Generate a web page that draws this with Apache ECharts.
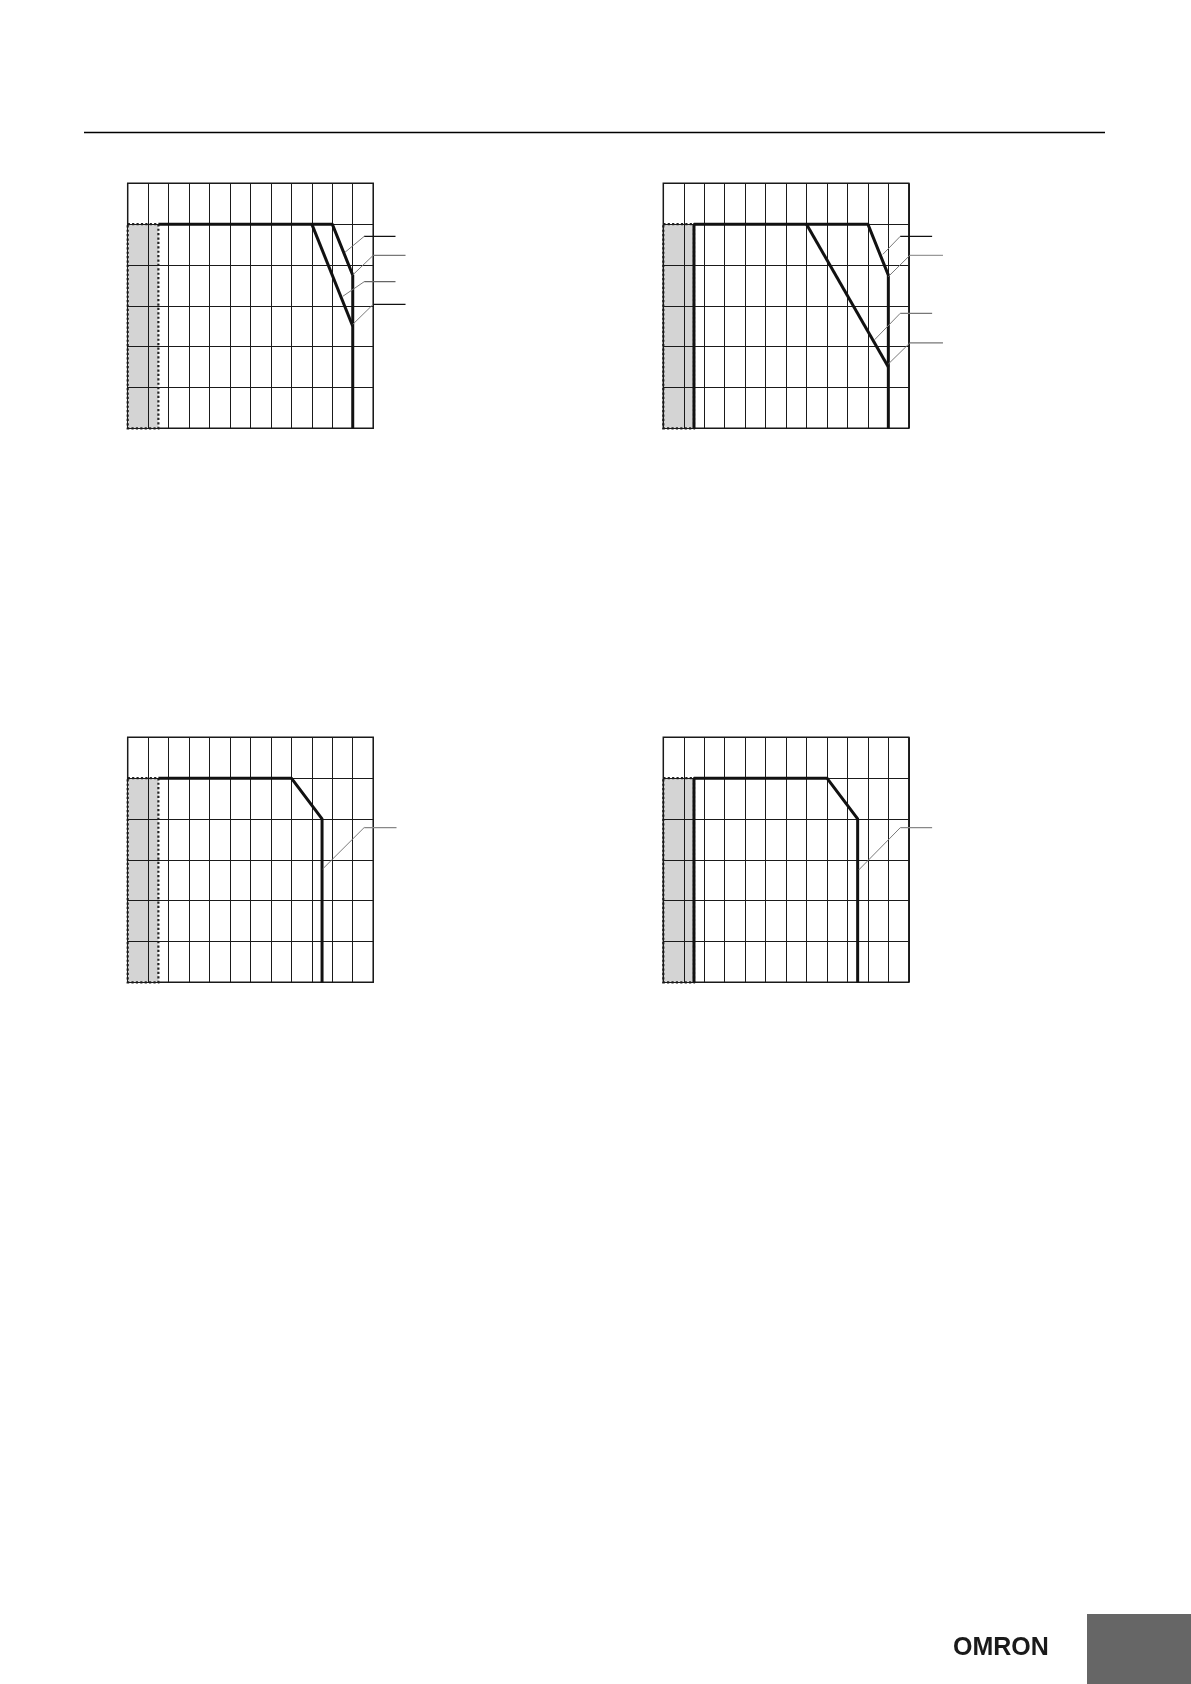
<!DOCTYPE html>
<html>
<head>
<meta charset="utf-8">
<script src="https://cdn.jsdelivr.net/npm/echarts@6.0.0/dist/echarts.min.js"></script>
<style>
html,body{margin:0;padding:0;background:#fff;}
#c{width:1191px;height:1684px;}
</style>
</head>
<body>
<div id="c"></div>
<script>
// Axis ranges (temperature °C on x, load % on y) — no tick labels are printed in the picture
const xMin = -40, xMax = 80, xStep = 10;
const yMin = 0, yMax = 120, yStep = 20;
// Wider hidden x range used only for the label leader lines that run past the grid
const xLeaderMax = 100;

// Shaded (non-operating) band: x from / to, up to load %
const bandX = [-40, -25];
const bandTop = 100;

// Derating curves
const curve1Main = [[-25,100],[60,100],[70,75],[70,0]];
const curve1Alt  = [[50,100],[70,50]];
const curve2Main = [[-25,0],[-25,100],[60,100],[70,75],[70,0]];
const curve2Alt  = [[30,100],[70,30]];
const curve3Main = [[-25,100],[40,100],[55,80],[55,0]];
const curve4Main = [[-25,0],[-25,100],[40,100],[55,80],[55,0]];

// Leader lines for (removed) labels: start on curve, elbow, end
const leaders1 = [
  [[66.2,86.2],[75.6,94.0],[90.9,94.0]],
  [[70,75.1],[80,84.7],[95.8,84.7]],
  [[65.2,64.7],[75.6,71.8],[90.9,71.8]],
  [[70,50.9],[80,60.7],[95.8,60.7]]
];
const leaderColors1 = ['#111','#777','#666','#111'];
const leaders2 = [
  [[67.3,85.2],[75.8,94.0],[91.4,94.0]],
  [[70,74.3],[80.5,84.7],[96.7,84.7]],
  [[63.2,43.3],[75.8,56.3],[91.4,56.3]],
  [[70,31.5],[80.5,41.8],[96.7,41.8]]
];
const leaderColors2 = ['#111','#999','#777','#777'];
const leaders3 = [[[55.3,55.5],[75.6,75.8],[91.4,75.8]]];
const leaderColors3 = ['#888'];
const leaders4 = [[[55.5,55.0],[75.9,75.8],[91.4,75.8]]];
const leaderColors4 = ['#888'];

const gridBoxes = [
  {left:127.7, top:183.3},
  {left:663.3, top:183.3},
  {left:127.7, top:737.3},
  {left:663.3, top:737.3}
];
const gw = 245.5, gh = 245;

const panels = [
  {curves:[curve1Main, curve1Alt], leaders:leaders1, colors:leaderColors1},
  {curves:[curve2Main, curve2Alt], leaders:leaders2, colors:leaderColors2},
  {curves:[curve3Main], leaders:leaders3, colors:leaderColors3},
  {curves:[curve4Main], leaders:leaders4, colors:leaderColors4}
];

const grid = [], xAxis = [], yAxis = [], series = [];
const n = gridBoxes.length;
gridBoxes.forEach((g, i) => {
  grid.push({left:g.left, top:g.top, width:gw, height:gh, show:true,
    borderColor:'#1a1a1a', borderWidth:1.5, backgroundColor:'transparent'});
  const split = {show:true, lineStyle:{color:'#1a1a1a', width:1}};
  xAxis.push({type:'value', gridIndex:i, min:xMin, max:xMax, interval:xStep, z:3,
    axisLabel:{show:false}, axisTick:{show:false}, axisLine:{show:false}, splitLine:split});
  yAxis.push({type:'value', gridIndex:i, min:yMin, max:yMax, interval:yStep, z:3,
    axisLabel:{show:false}, axisTick:{show:false}, axisLine:{show:false}, splitLine:split});
  const p = panels[i];
  p.curves.forEach((c, k) => {
    const s = {type:'line', xAxisIndex:i, yAxisIndex:i, data:c, symbol:'none',
      lineStyle:{color:'#111', width:3}, z:4, silent:true};
    if (k === 0) {
      s.markArea = {silent:true,
        itemStyle:{color:'#d4d4d4', borderColor:'#222', borderWidth:2.2, borderType:'dotted'},
        data:[[{coord:[bandX[0], bandTop]}, {coord:[bandX[1], yMin]}]]};
    }
    series.push(s);
  });
});
// overlay grids with the same scale but a wider x range, for leader lines
gridBoxes.forEach((g, i) => {
  const j = n + i;
  grid.push({left:g.left, top:g.top, width:gw * (xLeaderMax - xMin) / (xMax - xMin), height:gh, show:false});
  xAxis.push({type:'value', gridIndex:j, min:xMin, max:xLeaderMax, show:false});
  yAxis.push({type:'value', gridIndex:j, min:yMin, max:yMax, show:false});
  const p = panels[i];
  p.leaders.forEach((L, k) => {
    series.push({type:'line', xAxisIndex:j, yAxisIndex:j, data:[L[0], L[1]], symbol:'none',
      lineStyle:{color:'#7a7a7a', width:1}, silent:true, z:5});
    series.push({type:'line', xAxisIndex:j, yAxisIndex:j, data:[L[1], L[2]], symbol:'none',
      lineStyle:{color:p.colors[k], width:1.2}, silent:true, z:5});
  });
});

const chart = echarts.init(document.getElementById('c'), null, {renderer:'canvas'});
chart.setOption({
  animation:false,
  backgroundColor:'#fff',
  grid, xAxis, yAxis, series,
  graphic:[
    {type:'line', shape:{x1:84, y1:132.5, x2:1105, y2:132.5}, style:{stroke:'#000', lineWidth:1.4}},
    {type:'rect', shape:{x:1087, y:1614, width:104, height:70}, style:{fill:'#666'}},
    {type:'text', left:953, top:1636, style:{text:'OMRON', fill:'#1a1a1a',
      font:'bold 25px "Liberation Sans", Arial, sans-serif'}}
  ]
});
</script>
</body>
</html>
